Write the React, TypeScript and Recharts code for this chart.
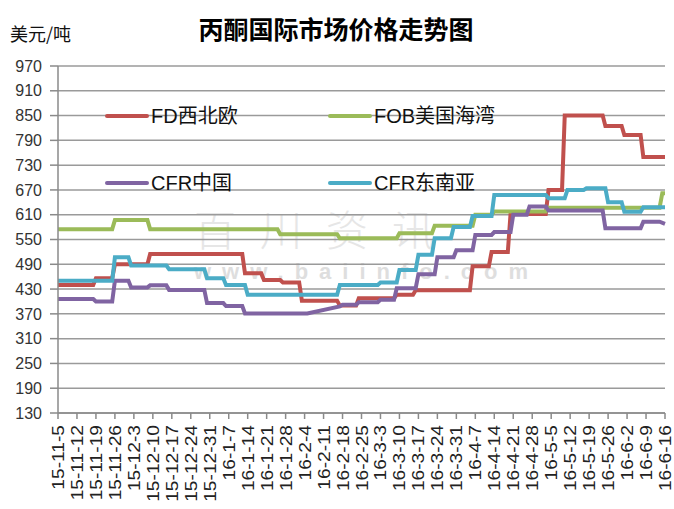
import React from 'react'
import { LineChart, Line, XAxis, YAxis, CartesianGrid } from 'recharts'

// x = calendar days since 15-11-5, one tick label per week
const dateLabels = [
  '15-11-5', '15-11-12', '15-11-19', '15-11-26', '15-12-3', '15-12-10', '15-12-17', '15-12-24', '15-12-31',
  '16-1-7', '16-1-14', '16-1-21', '16-1-28', '16-2-4', '16-2-11', '16-2-18', '16-2-25',
  '16-3-3', '16-3-10', '16-3-17', '16-3-24', '16-3-31', '16-4-7', '16-4-14', '16-4-21', '16-4-28',
  '16-5-5', '16-5-12', '16-5-19', '16-5-26', '16-6-2', '16-6-9', '16-6-16',
]
const yTicks = [130, 190, 250, 310, 370, 430, 490, 550, 610, 670, 730, 790, 850, 910, 970]

// price change points: [day, USD/t]
const fdNwEurope = [
  [0, 440], [13, 440], [14, 456], [20, 456], [21, 490], [33, 490], [34, 515], [68, 515],
  [69, 468], [75, 468], [76, 452], [82, 452], [83, 446], [89, 446], [90, 402], [103, 402],
  [104, 390], [110, 390], [111, 408], [124, 408], [125, 416], [131, 416], [132, 427], [152, 427],
  [153, 485], [159, 485], [160, 520], [166, 520], [167, 612], [180, 612], [181, 670], [186, 670],
  [187, 850], [201, 850], [202, 825], [208, 825], [209, 803], [215, 803], [216, 750], [224, 750],
]
const fobUsGulf = [
  [0, 575], [20, 575], [21, 597], [33, 597], [34, 575], [81, 575], [82, 563], [103, 563],
  [104, 553], [125, 553], [126, 565], [138, 565], [139, 583], [153, 583], [154, 610], [160, 610],
  [161, 618], [180, 618], [181, 627], [222, 627], [223, 662], [224, 662],
]
const cfrChina = [
  [0, 406], [13, 406], [14, 400], [20, 400], [21, 450], [26, 450], [27, 434], [33, 434],
  [34, 439], [40, 439], [41, 428], [54, 428], [55, 396], [61, 396], [62, 389], [68, 389],
  [69, 371], [92, 371], [104, 388], [105, 392], [110, 392], [111, 398], [118, 398], [119, 404],
  [124, 404], [125, 432], [132, 432], [133, 466], [139, 466], [140, 507], [146, 507], [147, 524],
  [153, 524], [154, 561], [160, 561], [161, 568], [167, 568], [168, 610], [173, 610], [174, 630],
  [180, 630], [181, 620], [201, 620], [202, 577], [215, 577], [216, 593], [222, 593], [224, 588],
]
const cfrSeAsia = [
  [0, 450], [20, 450], [21, 507], [26, 507], [27, 487], [40, 487], [41, 478], [54, 478],
  [55, 456], [61, 456], [62, 440], [69, 440], [70, 416], [103, 416], [104, 440], [118, 440],
  [119, 446], [125, 446], [126, 476], [132, 476], [133, 513], [138, 513], [139, 553], [145, 553],
  [146, 580], [152, 580], [153, 607], [160, 607], [161, 658], [180, 658], [181, 650], [187, 650],
  [188, 670], [194, 670], [195, 674], [202, 674], [203, 640], [208, 640], [209, 617], [215, 617],
  [216, 628], [224, 628],
]

const series = [
  { name: 'FD西北欧', color: '#C0504D', points: fdNwEurope },
  { name: 'FOB美国海湾', color: '#9BBB59', points: fobUsGulf },
  { name: 'CFR中国', color: '#8064A2', points: cfrChina },
  { name: 'CFR东南亚', color: '#4BACC6', points: cfrSeAsia },
]

const toRows = (pts: number[][]) => pts.map(([d, v]) => ({ d, v }))

const FONT = '"Liberation Sans", Arial, "Noto Sans CJK SC", sans-serif'

function DateTick({ x, y, payload }: any) {
  const label = dateLabels[Math.round(payload.value / 7)]
  return (
    <text
      x={0}
      y={0}
      transform={`translate(${x + 6},${y + 4}) rotate(-90) scale(1.2,1)`}
      textAnchor="end"
      fontSize={16}
      fontFamily={FONT}
      fill="#222"
    >
      {label}
    </text>
  )
}

function LegendItem({ left, top, color, name }: { left: number; top: number; color: string; name: string }) {
  return (
    <div style={{ position: 'absolute', left, top, display: 'flex', alignItems: 'center' }}>
      <div style={{ width: 44, height: 4, background: color, borderRadius: 2 }} />
      <span style={{ marginLeft: 2, fontSize: 20, fontFamily: FONT, color: '#111', lineHeight: '24px' }}>{name}</span>
    </div>
  )
}

export default function App() {
  return (
    <div style={{ position: 'relative', width: 674, height: 509, background: '#fff', overflow: 'hidden' }}>
      <style>{'body{margin:0}'}</style>
      {/* watermark, kept clear of the legend texts */}
      <div
        style={{
          position: 'absolute', left: 194, top: 207, fontSize: 42, lineHeight: '42px', letterSpacing: 24,
          color: '#e6e6e6', fontFamily: '"Noto Sans CJK SC", sans-serif', fontWeight: 300,
        }}
      >
        百川资讯
      </div>
      <div
        style={{
          position: 'absolute', left: 194, top: 260, fontSize: 22, lineHeight: '24px', letterSpacing: 11,
          color: '#dedede', fontFamily: FONT, fontWeight: 700,
        }}
      >
        www.baiinfo.com
      </div>
      <div
        style={{
          position: 'absolute', left: 0, width: 672, top: 10, textAlign: 'center',
          fontSize: 25, fontWeight: 700, fontFamily: '"Noto Sans CJK SC", sans-serif', color: '#000',
        }}
      >
        丙酮国际市场价格走势图
      </div>
      <div
        style={{
          position: 'absolute', left: 10, top: 20, fontSize: 18,
          fontFamily: '"Noto Sans CJK SC", sans-serif', color: '#111',
        }}
      >
        美元/吨
      </div>
      <LineChart width={674} height={509} margin={{ top: 66, right: 9, bottom: 0, left: 0 }} style={{ position: 'relative' }}>
        <CartesianGrid vertical={false} stroke="#9a9a9a" strokeWidth={1.5} />
        <XAxis
          type="number"
          dataKey="d"
          domain={[0, 224]}
          ticks={dateLabels.map((_, i) => i * 7)}
          interval={0}
          height={96}
          tickSize={6}
          stroke="#8a8a8a"
          strokeWidth={1.5}
          tick={<DateTick />}
        />
        <YAxis
          type="number"
          domain={[130, 970]}
          ticks={yTicks}
          interval={0}
          width={58}
          tickSize={8}
          tickMargin={8}
          stroke="#8a8a8a"
          strokeWidth={1.5}
          tick={{ fontSize: 16, fill: '#333', fontFamily: FONT }}
        />
        {series.map((s) => (
          <Line
            key={s.name}
            data={toRows(s.points)}
            dataKey="v"
            name={s.name}
            type="linear"
            stroke={s.color}
            strokeWidth={4}
            dot={false}
            activeDot={false}
            isAnimationActive={false}
          />
        ))}
      </LineChart>
      <LegendItem left={105} top={104} color={series[0].color} name={series[0].name} />
      <LegendItem left={328} top={104} color={series[1].color} name={series[1].name} />
      <LegendItem left={105} top={171} color={series[2].color} name={series[2].name} />
      <LegendItem left={328} top={171} color={series[3].color} name={series[3].name} />
    </div>
  )
}
